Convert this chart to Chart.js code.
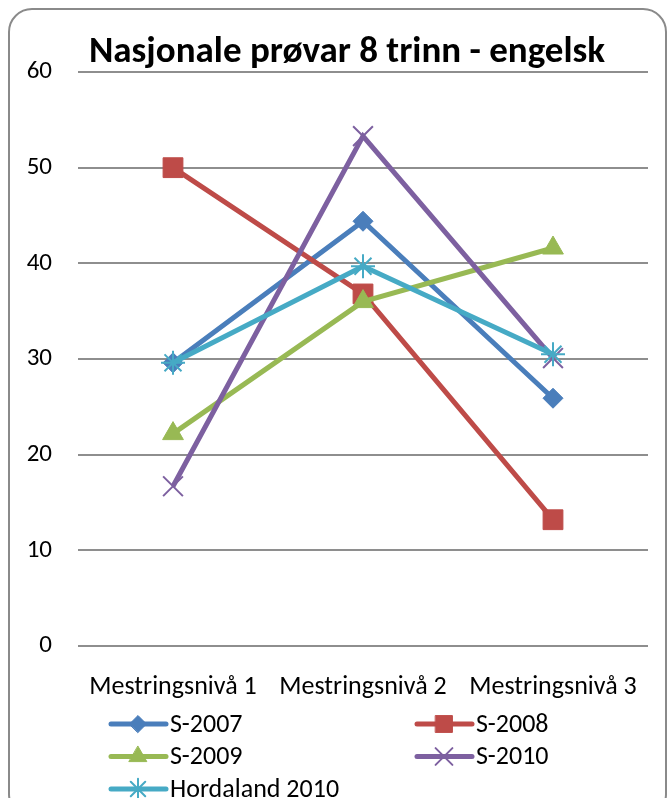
<!DOCTYPE html>
<html>
<head>
<meta charset="utf-8">
<script src="https://cdn.jsdelivr.net/npm/chart.js@4"></script>
<style>
    html, body { margin: 0; padding: 0; background: #fff; }
    #wrap { position: relative; width: 671px; height: 798px; overflow: hidden; }
    #frame { position: absolute; left: 8px; top: 8px; width: 659px; height: 810px;
             border: 2px solid #8a8a8a; border-radius: 24px; box-sizing: border-box; }
    canvas { position: absolute; left: 0; top: 0; }
</style>
</head>
<body>
<div id="wrap">
    <div id="frame"></div>
    <canvas id="chart" width="671" height="798"></canvas>
</div>
<script>
const FONT = "Carlito, Lato, 'Open Sans', sans-serif";
const TITLE = 'Nasjonale prøvar 8 trinn - engelsk';

// data
const categories = ['Mestringsnivå 1', 'Mestringsnivå 2', 'Mestringsnivå 3'];
const seriesNames = ['S-2007', 'S-2008', 'S-2009', 'S-2010', 'Hordaland 2010'];
const s2007 = [29.6, 44.4, 25.9];
const s2008 = [50.0, 36.8, 13.2];
const s2009 = [22.2, 36.0, 41.6];
const s2010 = [16.7, 53.3, 30.1];
const hordaland2010 = [29.6, 39.7, 30.5];
const yTicks = [0, 10, 20, 30, 40, 50, 60];

const seriesValues = [s2007, s2008, s2009, s2010, hordaland2010];
const colors = ['#4a7ebb', '#be4b48', '#98b954', '#7d60a0', '#46aac5'];
const markers = ['rectRot', 'rect', 'triangle', 'crossRot', 'star'];
const markerSize = [10, 14, 12, 14, 12];

const datasets = seriesNames.map((name, i) => ({
    label: name,
    data: seriesValues[i],
    borderColor: colors[i],
    backgroundColor: colors[i],
    borderWidth: 5,
    pointStyle: markers[i],
    pointRadius: markerSize[i],
    pointBorderWidth: (markers[i] === 'crossRot' || markers[i] === 'star') ? 2 : 1,
    pointBorderColor: colors[i],
    pointBackgroundColor: colors[i],
    tension: 0,
    order: -i
}));

// title sits over the top gridline, a bit left of the plot centre
const overlayTitle = {
    id: 'overlayTitle',
    afterDraw(chart) {
        const ctx = chart.ctx;
        const area = chart.chartArea;
        ctx.save();
        ctx.font = 'bold 37px ' + FONT;
        ctx.textAlign = 'center';
        ctx.textBaseline = 'alphabetic';
        ctx.fillStyle = '#000';
        ctx.fillText(TITLE, area.left + 269, area.top - 10);
        ctx.restore();
    }
};

// legend in two columns like the original
const columnLegend = {
    id: 'columnLegend',
    afterDraw(chart) {
        const ctx = chart.ctx;
        const area = chart.chartArea;
        const colX = [area.left + 33, area.left + 339];
        const rowY = area.bottom + 78;
        ctx.save();
        ctx.font = '26px ' + FONT;
        ctx.textBaseline = 'middle';
        chart.data.datasets.forEach((ds, i) => {
            const x = colX[i % 2];
            const y = rowY + Math.floor(i / 2) * 32.5;
            ctx.strokeStyle = ds.borderColor;
            ctx.lineWidth = 5;
            ctx.lineCap = 'round';
            ctx.beginPath();
            ctx.moveTo(x, y);
            ctx.lineTo(x + 55, y);
            ctx.stroke();
            ctx.fillStyle = ds.borderColor;
            ctx.lineWidth = ds.pointBorderWidth;
            Chart.helpers.drawPoint(ctx, {
                pointStyle: ds.pointStyle,
                radius: ds.pointRadius * 0.85,
                rotation: 0,
                borderWidth: ds.pointBorderWidth
            }, x + 27, y);
            ctx.fillStyle = '#000';
            ctx.fillText(ds.label, x + 59, y + 1);
        });
        ctx.restore();
    }
};

new Chart(document.getElementById('chart'), {
    type: 'line',
    data: { labels: categories, datasets: datasets },
    plugins: [overlayTitle, columnLegend],
    options: {
        responsive: false,
        animation: false,
        events: [],
        layout: { padding: { left: 0, right: 23, top: 72, bottom: 72 } },
        plugins: {
            legend: { display: false },
            tooltip: { enabled: false },
            title: { display: false }
        },
        scales: {
            x: {
                offset: true,
                grid: { display: false, drawTicks: false },
                border: { display: false },
                ticks: { color: '#000', font: { family: FONT, size: 26 }, padding: 26, maxRotation: 0 },
                afterFit: (axis) => { axis.height = 80; }
            },
            y: {
                min: 0,
                max: 60,
                afterBuildTicks: (axis) => { axis.ticks = yTicks.map(v => ({ value: v })); },
                grid: { color: '#8e8e8e', lineWidth: 2, drawTicks: false },
                border: { display: false },
                ticks: { color: '#000', font: { family: FONT, size: 25 }, padding: 26 },
                afterFit: (axis) => { axis.width = 78; }
            }
        }
    }
});
</script>
</body>
</html>
